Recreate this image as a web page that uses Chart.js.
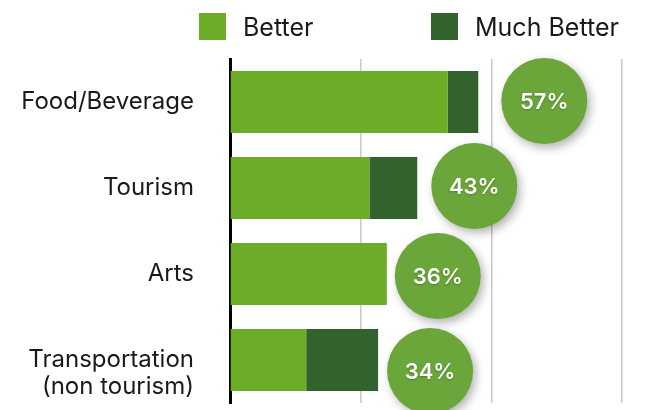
<!DOCTYPE html>
<html>
<head>
<meta charset="utf-8">
<script src="https://cdn.jsdelivr.net/npm/chart.js@4.4.1/dist/chart.umd.min.js"></script>
<style>
  html, body { margin: 0; padding: 0; background: #fff; }
  #wrap { position: relative; width: 666px; height: 410px; }
  #legend {
    position: absolute; top: 13px; left: 0; width: 666px; height: 27px;
    font-family: Inter, sans-serif; font-size: 25px; color: #1a1a1a;
  }
  .item { position: absolute; top: 0; display: flex; align-items: center; height: 27px; }
  .box { width: 27px; height: 27px; margin-right: 17px; }
</style>
</head>
<body>
<div id="wrap">
  <canvas id="chart" width="666" height="410"></canvas>
  <div id="legend"></div>
</div>
<script>
// data (percent of respondents)
const categories = ["Food/Beverage", "Tourism", "Arts", ["", "Transportation", "(non tourism)"]];
const better = [50, 32, 36, 17.5];
const muchBetter = [7, 11, 0, 16.5];
const seriesNames = ["Better", "Much Better"];
const xTicks = [0, 30, 60, 90];

const COLORS = ["#6bad27", "#33632c"];
const BADGE = "#6aa63a";
const FONT = "Inter, sans-serif";

// legend (html, placed like the original)
const legendLeft = [199, 431];
const legend = document.getElementById("legend");
seriesNames.forEach((name, i) => {
  const el = document.createElement("div");
  el.className = "item";
  el.style.left = legendLeft[i] + "px";
  el.innerHTML = `<span class="box" style="background:${COLORS[i]}"></span><span>${name}</span>`;
  legend.appendChild(el);
});

// green circles with the total share, drawn next to each bar
const badgePlugin = {
  id: "badges",
  afterDatasetsDraw(chart, args, opts) {
    const { ctx, scales } = chart;
    categories.forEach((c, i) => {
      const total = better[i] + muchBetter[i];
      const x = scales.x.getPixelForValue(total) + opts.dx[i];
      const y = scales.y.getPixelForValue(i) + opts.dy[i];
      ctx.save();
      ctx.shadowColor = "rgba(0,0,0,0.3)";
      ctx.shadowBlur = 10;
      ctx.shadowOffsetX = 3;
      ctx.shadowOffsetY = 4;
      ctx.beginPath();
      ctx.arc(x, y, opts.r, 0, Math.PI * 2);
      ctx.fillStyle = BADGE;
      ctx.fill();
      ctx.restore();

      ctx.save();
      ctx.fillStyle = "#fff";
      ctx.font = "600 22px " + FONT;
      ctx.textAlign = "center";
      ctx.textBaseline = "middle";
      ctx.shadowColor = "rgba(0,0,0,0.25)";
      ctx.shadowBlur = 2;
      ctx.shadowOffsetY = 1;
      ctx.fillText(Math.round(total) + "%", x, y + 1);
      ctx.restore();
    });
  }
};

new Chart(document.getElementById("chart"), {
  type: "bar",
  data: {
    labels: categories,
    datasets: [
      { label: seriesNames[0], data: better, backgroundColor: COLORS[0] },
      { label: seriesNames[1], data: muchBetter, backgroundColor: COLORS[1] },
    ],
  },
  options: {
    indexAxis: "y",
    responsive: false,
    animation: false,
    layout: { padding: { top: 59, right: 44, bottom: 7, left: 0 } },
    datasets: { bar: { categoryPercentage: 1, barPercentage: 0.72 } },
    plugins: {
      legend: { display: false },
      tooltip: { enabled: false },
      badges: {
        r: 43,
        dx: [66, 57, 51, 52],
        dy: [-1, -2, 2, 11],
      },
    },
    scales: {
      x: {
        stacked: true,
        min: xTicks[0],
        max: xTicks[xTicks.length - 1],
        afterBuildTicks: (s) => { s.ticks = xTicks.map(v => ({ value: v })); },
        afterFit: (s) => { s.height = 0; s.paddingLeft = 0; s.paddingRight = 0; },
        ticks: { display: false },
        grid: {
          color: (c) => c.tick && c.tick.value === 0 ? "rgba(0,0,0,0)" : "#c8c8c8",
          lineWidth: 1.5,
          drawTicks: false,
        },
        border: { display: false },
      },
      y: {
        stacked: true,
        afterFit: (s) => { s.width = 230; s.paddingTop = 0; s.paddingBottom = 0; },
        grid: { display: false, drawTicks: false },
        border: { display: true, color: "#000", width: 3 },
        ticks: {
          padding: 36,
          color: "#1a1a1a",
          font: { family: FONT, size: 24, lineHeight: 1.12 },
        },
      },
    },
  },
  plugins: [badgePlugin],
});
</script>
</body>
</html>
